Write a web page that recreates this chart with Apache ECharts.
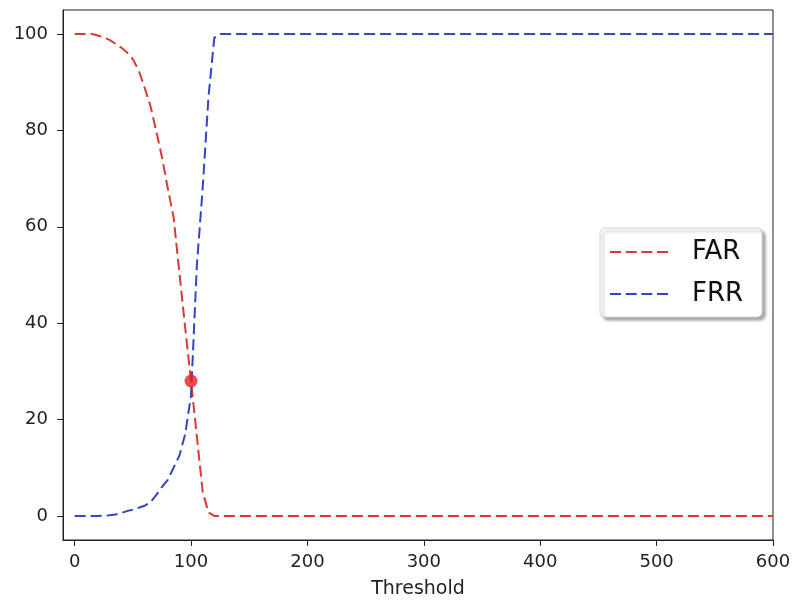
<!DOCTYPE html>
<html>
<head>
<meta charset="utf-8">
<script src="https://cdn.jsdelivr.net/npm/echarts@6/dist/echarts.min.js"></script>
<style>html,body{margin:0;padding:0;background:#fff}#c{width:793px;height:601px}</style>
</head>
<body>
<div id="c"></div>
<script>
var thresholds = [0,5,10,15,20,25,30,35,40,45,50,55,60,65,70,75,80,85,90,95,100,105,110,115,120,125,130,200,300,400,500,600];
var far = [100,100,100,100,99.7,99.3,98.8,98,97.2,96.2,94.8,92.5,89,85.2,80,74.5,68,62,50.5,39,28,16.5,5,0.7,0,0,0,0,0,0,0,0];
var frr = [0,0,0,0,0,0.05,0.15,0.3,0.6,1.0,1.3,1.7,2.1,2.8,4.3,6,7.5,10,12.5,17,25,52,68,87,99.2,100,100,100,100,100,100,100];
var eer = [100, 28];
var xTicks = [0,100,200,300,400,500,600];
var yTicks = [0,20,40,60,80,100];

function pairs(xs, ys){ return xs.map(function(x,i){ return [x, ys[i]]; }); }

var dashIcon = 'path://M0,0L11,0L11,2L0,2Z M15.7,0L26.7,0L26.7,2L15.7,2Z M31.3,0L42.3,0L42.3,2L31.3,2Z M47,0L58,0L58,2L47,2Z';
var font = 'DejaVu Sans';
var chart = echarts.init(document.getElementById('c'));
chart.setOption({
  animation: false,
  textStyle: {fontFamily: font},
  grid: {left: 63, right: 20, top: 10, bottom: 61, show: true, borderColor: '#222', borderWidth: 1,
         containLabel: false, outerBoundsMode: 'none'},
  xAxis: {
    type: 'value', min: -10, max: 600,
    name: 'Threshold', nameLocation: 'middle', nameGap: 40,
    nameTextStyle: {fontFamily: font, fontSize: 19, color: '#222'},
    splitLine: {show: false},
    axisLine: {show: true, onZero: false, lineStyle: {color: '#222'}},
    axisTick: {show: true, length: 6, inside: false, customValues: xTicks, lineStyle: {color: '#222'}},
    axisLabel: {customValues: xTicks, fontFamily: font, fontSize: 18, color: '#222', margin: 13}
  },
  yAxis: {
    type: 'value', min: -5, max: 105,
    splitLine: {show: false},
    axisLine: {show: true, onZero: false, lineStyle: {color: '#222'}},
    axisTick: {show: true, length: 6, inside: false, customValues: yTicks, lineStyle: {color: '#222'}},
    axisLabel: {customValues: yTicks, fontFamily: font, fontSize: 18, color: '#222', margin: 15}
  },
  legend: {
    show: true,
    left: 600, top: 228,
    orient: 'vertical',
    data: [{name: 'FAR', icon: dashIcon}, {name: 'FRR', icon: dashIcon}],
    itemWidth: 58, itemHeight: 2, itemGap: 16,
    padding: [11, 19, 10, 10],
    backgroundColor: '#fff',
    borderColor: '#d0d0d0', borderWidth: 1, borderRadius: 5,
    shadowColor: 'rgba(0,0,0,0.35)', shadowBlur: 3, shadowOffsetX: 3, shadowOffsetY: 3,
    textStyle: {fontFamily: font, fontSize: 26, color: '#111', padding: [0,0,0,19], lineHeight: 26}
  },
  series: [
    {name: 'FAR', type: 'line', data: pairs(thresholds, far), showSymbol: false, symbol: 'none',
     lineStyle: {color: '#d83a32', width: 2, type: [11, 5]}, itemStyle: {color: '#d83a32'}},
    {name: 'FRR', type: 'line', data: pairs(thresholds, frr), showSymbol: false, symbol: 'none',
     lineStyle: {color: '#3444c4', width: 2, type: [11, 5]}, itemStyle: {color: '#3444c4'}},
    {name: 'EER', type: 'scatter', data: [eer], symbolSize: 13, itemStyle: {color: '#ee1d1d'}, z: 5}
  ]
});
</script>
</body>
</html>
